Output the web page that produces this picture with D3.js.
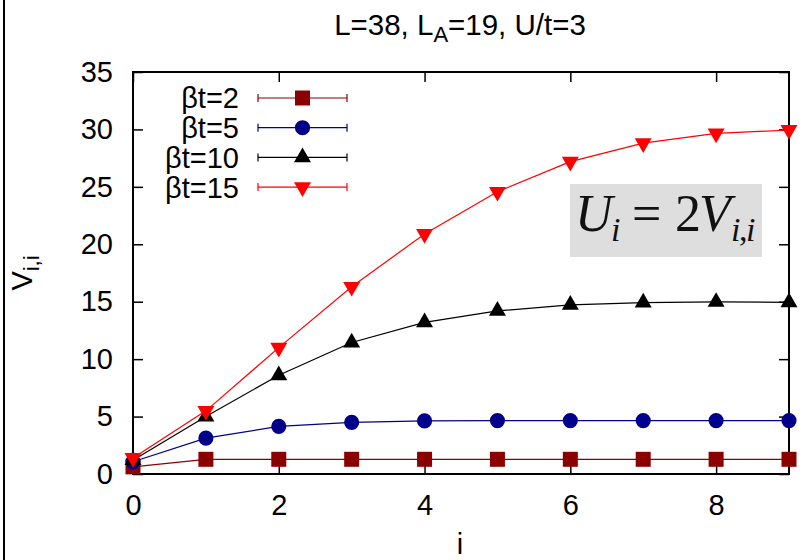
<!DOCTYPE html>
<html>
<head>
<meta charset="utf-8">
<script src="https://cdn.jsdelivr.net/npm/d3@7"></script>
<style>
  html, body { margin: 0; padding: 0; background: #fff; }
  svg { display: block; }
  text { font-family: "Liberation Sans", Arial, Helvetica, sans-serif; }
</style>
</head>
<body>
<div id="chart"></div>
<script>
// ---- data ----
const iValues = [0, 1, 2, 3, 4, 5, 6, 7, 8, 9];
const seriesNames = ["βt=2", "βt=5", "βt=10", "βt=15"];
const vBeta2  = [0.62, 1.28, 1.28, 1.28, 1.28, 1.28, 1.28, 1.28, 1.28, 1.28];
const vBeta5  = [1.07, 3.12, 4.15, 4.50, 4.62, 4.65, 4.65, 4.65, 4.65, 4.65];
const vBeta10 = [1.20, 5.00, 8.60, 11.45, 13.20, 14.20, 14.72, 14.92, 14.98, 14.95];
const vBeta15 = [1.40, 5.50, 11.00, 16.30, 20.90, 24.57, 27.20, 28.80, 29.65, 29.95];
const xTicks = [0, 2, 4, 6, 8];
const yTicks = [0, 5, 10, 15, 20, 25, 30, 35];
const titleParts = ["L=38, L", "A", "=19, U/t=3"];

const colors = ["#8b0000", "#00008b", "#000000", "#ff0000"];
const symbols = [d3.symbolSquare, d3.symbolCircle, d3.symbolTriangle, d3.symbolTriangle];
const symSizes = [225, 180, 125, 125];
const symRotate = [0, 0, 0, 180];
const allSeries = [vBeta2, vBeta5, vBeta10, vBeta15];

const W = 807, H = 560;
const margin = { left: 133, right: 18, top: 72, bottom: 86 };
const pw = W - margin.left - margin.right;
const ph = H - margin.top - margin.bottom;

const svg = d3.select("#chart").append("svg").attr("width", W).attr("height", H);

// outer left frame line
svg.append("line").attr("x1", 4).attr("x2", 4).attr("y1", 0).attr("y2", H)
  .attr("stroke", "#000").attr("stroke-width", 2);

const g = svg.append("g").attr("transform", `translate(${margin.left},${margin.top})`);
const x = d3.scaleLinear().domain([0, 9]).range([0, pw]);
const y = d3.scaleLinear().domain([0, 35]).range([ph, 0]);

const FS = 29;

// axes with inward ticks
const axB = g.append("g").attr("transform", `translate(0,${ph})`)
  .call(d3.axisBottom(x).tickValues(xTicks).tickSizeInner(-10).tickSizeOuter(0).tickPadding(20).tickFormat(d3.format("d")));
const axT = g.append("g")
  .call(d3.axisTop(x).tickValues(xTicks).tickSizeInner(-10).tickSizeOuter(0).tickFormat(""));
const axL = g.append("g")
  .call(d3.axisLeft(y).tickValues(yTicks).tickSizeInner(-10).tickSizeOuter(0).tickPadding(20).tickFormat(d3.format("d")));
const axR = g.append("g").attr("transform", `translate(${pw},0)`)
  .call(d3.axisRight(y).tickValues(yTicks).tickSizeInner(-10).tickSizeOuter(0).tickFormat(""));
[axB, axT, axL, axR].forEach(a => {
  a.select(".domain").remove();
  a.selectAll(".tick line").attr("stroke", "#000").attr("stroke-width", 1.5);
  a.selectAll(".tick text").attr("font-size", FS).attr("fill", "#000")
    .style("font-family", '"Liberation Sans", Arial, sans-serif');
});
axB.selectAll(".tick text").attr("dy", "0.71em");

// border
g.append("rect").attr("x", 0).attr("y", 0).attr("width", pw).attr("height", ph)
  .attr("fill", "none").attr("stroke", "#000").attr("stroke-width", 2);

// equation box
const eq = g.append("g").attr("transform", `translate(${-margin.left},${-margin.top})`);
eq.append("rect").attr("x", 570).attr("y", 184)
  .attr("width", 192).attr("height", 73).attr("fill", "#dedede");
const serif = '"Liberation Serif", "Times New Roman", serif';
const eqBase = 231, subBase = 241;
const eqParts = [
  { t: "U", x: 575, y: eqBase, fs: 52, it: true },
  { t: "i", x: 611, y: subBase, fs: 34, it: true },
  { t: "=", x: 632, y: eqBase, fs: 52, it: false },
  { t: "2", x: 675, y: eqBase, fs: 52, it: false },
  { t: "V", x: 699, y: eqBase, fs: 52, it: true },
  { t: "i", x: 731, y: subBase, fs: 34, it: true },
  { t: ",", x: 739, y: subBase, fs: 34, it: false },
  { t: "i", x: 746, y: subBase, fs: 34, it: true }
];
eq.selectAll("text.eq").data(eqParts).enter().append("text").attr("class", "eq")
  .attr("x", d => d.x).attr("y", d => d.y)
  .style("font-family", serif).attr("font-size", d => d.fs)
  .attr("font-style", d => d.it ? "italic" : "normal")
  .attr("fill", "#111").text(d => d.t);

// series
const line = d3.line().x((d, i) => x(iValues[i])).y(d => y(d));
allSeries.forEach((vals, k) => {
  const sg = g.append("g");
  sg.append("path").datum(vals).attr("d", line).attr("fill", "none")
    .attr("stroke", colors[k]).attr("stroke-width", 1.2);
  sg.selectAll("path.pt").data(vals).enter().append("path").attr("class", "pt")
    .attr("d", d3.symbol().type(symbols[k]).size(symSizes[k]))
    .attr("transform", (d, i) => `translate(${x(iValues[i])},${y(d)}) rotate(${symRotate[k]})`)
    .attr("fill", colors[k]);
});

// legend
const legX = 239 - margin.left, legY0 = 98 - margin.top, legDy = 29.7;
seriesNames.forEach((name, k) => {
  const ly = legY0 + k * legDy;
  const lg = g.append("g");
  lg.append("text").attr("x", legX).attr("y", ly).attr("dy", "0.36em")
    .attr("text-anchor", "end").attr("font-size", FS).text(name);
  const x1 = 258 - margin.left, x2 = 347 - margin.left;
  lg.append("line").attr("x1", x1).attr("x2", x2).attr("y1", ly).attr("y2", ly)
    .attr("stroke", colors[k]).attr("stroke-width", 1.2);
  [x1, x2].forEach(xx => lg.append("line").attr("x1", xx).attr("x2", xx)
    .attr("y1", ly - 4).attr("y2", ly + 4).attr("stroke", colors[k]).attr("stroke-width", 1.2));
  lg.append("path").attr("d", d3.symbol().type(symbols[k]).size(symSizes[k]))
    .attr("transform", `translate(${302.5 - margin.left},${ly}) rotate(${symRotate[k]})`)
    .attr("fill", colors[k]);
});

// title
const t = svg.append("text").attr("x", 460).attr("y", 35).attr("text-anchor", "middle")
  .attr("font-size", 29.5);
t.append("tspan").text(titleParts[0]);
t.append("tspan").attr("font-size", 22).attr("dy", 7).text(titleParts[1]);
t.append("tspan").attr("dy", -7).text(titleParts[2]);

// y label
const yl = svg.append("text").attr("transform", "translate(32,273) rotate(-90)")
  .attr("text-anchor", "middle").attr("font-size", FS);
yl.append("tspan").text("V");
yl.append("tspan").attr("font-size", 22).attr("dy", 7).text("i,i");

// x label
svg.append("text").attr("x", 460).attr("y", 554).attr("text-anchor", "middle")
  .attr("font-size", FS).text("i");
</script>
</body>
</html>
